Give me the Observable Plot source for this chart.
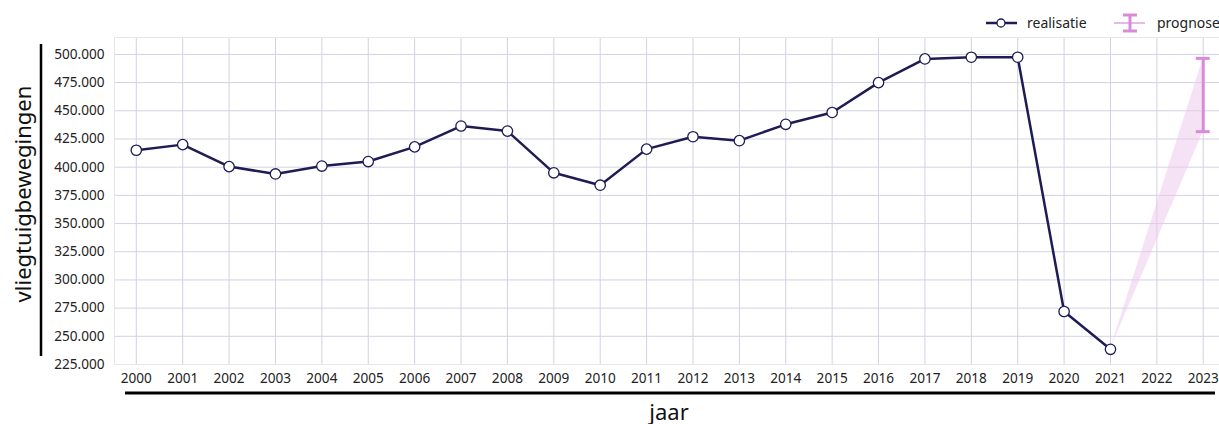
<!DOCTYPE html>
<html><head><meta charset="utf-8">
<script src="https://cdn.jsdelivr.net/npm/d3@7"></script>
<script src="https://cdn.jsdelivr.net/npm/@observablehq/plot@0.6"></script>
<style>
body{margin:0;background:#fff;font-family:"Noto Sans",sans-serif;}
#legend{height:37px;width:1219px;position:relative;}
#chart svg{display:block;overflow:visible;}
</style></head><body>
<div id="legend"></div><div id="chart"></div>
<script>
const years = [2000,2001,2002,2003,2004,2005,2006,2007,2008,2009,2010,2011,2012,2013,2014,2015,2016,2017,2018,2019,2020,2021];
const realisatie = [415000,420000,400500,394000,401000,405000,418000,436500,432000,395000,384000,416000,427000,423500,438000,448500,475000,496000,497500,497500,272000,238500];
const prognoseYears = [2021,2023];
const prognoseLow = [238500,431500];
const prognoseHigh = [238500,496500];
const xTicks = [2000,2001,2002,2003,2004,2005,2006,2007,2008,2009,2010,2011,2012,2013,2014,2015,2016,2017,2018,2019,2020,2021,2022,2023];
const yTicks = [225000,250000,275000,300000,325000,350000,375000,400000,425000,450000,475000,500000];
const labels = {x:"jaar", y:"vliegtuigbewegingen", real:"realisatie", prog:"prognose"};

const navy = "#1e1b55", orchid = "#d98ad9", band = "#eec6ec", gridC = "#d3d1e3";
const nl = d3.formatLocale({decimal:",", thousands:".", grouping:[3], currency:["€",""]});
const fmt = nl.format(",.0f");

const realData = years.map((y,i)=>({year:y, value:realisatie[i]}));
const progData = prognoseYears.map((y,i)=>({year:y, low:prognoseLow[i], high:prognoseHigh[i]}));
const errData = [progData[progData.length-1]];

const chart = Plot.plot({
  width:1219, height:387,
  marginTop:0, marginLeft:114, marginRight:0, marginBottom:60,
  style:{fontFamily:'"Noto Sans",sans-serif', fontSize:"13.6px", color:"#222", background:"#fff"},
  x:{domain:[1999.53, 2023.35], ticks:xTicks, tickFormat:d=>String(d), tickSize:0, tickPadding:9, label:null},
  y:{domain:[225000, 515000], ticks:yTicks, tickFormat:fmt, tickSize:0, tickPadding:10, label:null},
  marks:[
    Plot.gridX(xTicks, {stroke:gridC, strokeOpacity:1}),
    Plot.gridY(yTicks, {stroke:gridC, strokeOpacity:1}),
    Plot.frame({stroke:"#e6e6ec", strokeWidth:1}),
    Plot.areaY(progData, {x:"year", y1:"low", y2:"high", fill:band, fillOpacity:0.5}),
    Plot.line(realData, {x:"year", y:"value", stroke:navy, strokeWidth:2.5}),
    Plot.dot(realData, {x:"year", y:"value", r:5.2, fill:"#fff", stroke:navy, strokeWidth:1.3}),
    Plot.ruleX(errData, {x:"year", y1:"low", y2:"high", stroke:orchid, strokeWidth:3}),
    Plot.ruleY(errData, {x1:d=>d.year-0.15, x2:d=>d.year+0.15, y:"low", stroke:orchid, strokeWidth:3}),
    Plot.ruleY(errData, {x1:d=>d.year-0.15, x2:d=>d.year+0.15, y:"high", stroke:orchid, strokeWidth:3})
  ]
});
document.getElementById("chart").appendChild(chart);

// axis titles and decorative lines
const svg = d3.select(chart);
svg.append("line").attr("x1",41).attr("x2",41).attr("y1",7).attr("y2",319).attr("stroke","#000").attr("stroke-width",2.5);
svg.append("text").attr("transform","translate(31,157) rotate(-90)").attr("text-anchor","middle")
  .attr("font-size",22).attr("fill","#111").text(labels.y);
svg.append("line").attr("x1",125).attr("x2",1215).attr("y1",356).attr("y2",356).attr("stroke","#000").attr("stroke-width",3);
svg.append("text").attr("x",669).attr("y",383).attr("text-anchor","middle")
  .attr("font-size",22).attr("fill","#111").text(labels.x);

// legend
const lg = d3.select("#legend").append("svg").attr("width",1219).attr("height",37)
  .style("font-family",'"Noto Sans",sans-serif').style("font-size","14px");
lg.append("line").attr("x1",986).attr("x2",1017).attr("y1",23).attr("y2",23).attr("stroke",navy).attr("stroke-width",2.5);
lg.append("circle").attr("cx",1001).attr("cy",23).attr("r",4).attr("fill","#fff").attr("stroke",navy).attr("stroke-width",1.3);
lg.append("text").attr("x",1027).attr("y",28).attr("fill","#222").text(labels.real);
lg.append("line").attr("x1",1114).attr("x2",1145).attr("y1",23).attr("y2",23).attr("stroke",orchid).attr("stroke-opacity",0.6).attr("stroke-width",2);
lg.append("line").attr("x1",1130).attr("x2",1130).attr("y1",14).attr("y2",32).attr("stroke",orchid).attr("stroke-width",3);
lg.append("line").attr("x1",1123).attr("x2",1137).attr("y1",15).attr("y2",15).attr("stroke",orchid).attr("stroke-width",3);
lg.append("line").attr("x1",1123).attr("x2",1137).attr("y1",31).attr("y2",31).attr("stroke",orchid).attr("stroke-width",3);
lg.append("text").attr("x",1157).attr("y",28).attr("fill","#222").text(labels.prog);
</script>
</body></html>
